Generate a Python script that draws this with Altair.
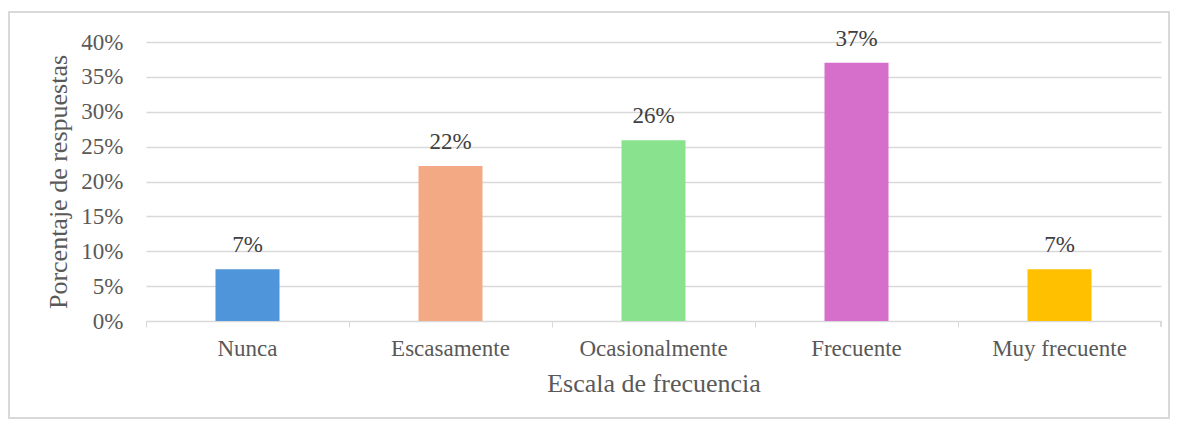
import altair as alt
import pandas as pd

categories = ["Nunca", "Escasamente", "Ocasionalmente", "Frecuente", "Muy frecuente"]
values = [2/27, 6/27, 7/27, 10/27, 2/27]
labels = ["7%", "22%", "26%", "37%", "7%"]
colors = ["#4F95DA", "#F3AA84", "#88E28E", "#D66FCB", "#FFC000"]
y_ticks = [0, 0.05, 0.1, 0.15, 0.2, 0.25, 0.3, 0.35, 0.4]

df = pd.DataFrame({"cat": categories, "val": values, "lab": labels})

W, H = 1015, 279
FONT = "Liberation Serif"

x = alt.X("cat:N", sort=categories, title="Escala de frecuencia",
          scale=alt.Scale(paddingInner=0, paddingOuter=0),
          axis=alt.Axis(labelAngle=0, labelFont=FONT, labelFontSize=23, labelColor="#595959",
                        titleFont=FONT, titleFontSize=26, titleColor="#595959", titleFontWeight="normal",
                        titlePadding=10, labelPadding=10, tickSize=6, bandPosition=0,
                        domainColor="#d9d9d9", tickColor="#d9d9d9", grid=False, labelOverlap=False))
y = alt.Y("val:Q", title="Porcentaje de respuestas",
          scale=alt.Scale(domain=[0, 0.4]),
          axis=alt.Axis(format=".0%", values=y_ticks, tickCount=9, labelOverlap=False,
                        labelFont=FONT, labelFontSize=23, labelColor="#595959",
                        titleFont=FONT, titleFontSize=26, titleColor="#595959", titleFontWeight="normal",
                        titlePadding=9, labelPadding=23, ticks=False, domain=False,
                        gridColor="#d9d9d9", gridWidth=1.3))

bars = alt.Chart(df).mark_bar(size=64).encode(
    x=x, y=y,
    color=alt.Color("cat:N", sort=categories, scale=alt.Scale(domain=categories, range=colors), legend=None),
)
text = alt.Chart(df).mark_text(font=FONT, fontSize=23, color="#404040", dy=-17, baseline="alphabetic").encode(
    x=x, y=y, text="lab:N"
)
endtick = alt.Chart(df).mark_rule(color="#d9d9d9").encode(
    x=alt.value(W), y=alt.value(H), y2=alt.value(H + 6)
)
border = alt.Chart(df).mark_rect(fill=None, stroke="#d9d9d9", strokeWidth=1.5).encode(
    x=alt.value(-137), x2=alt.value(1023), y=alt.value(-30), y2=alt.value(376)
)

chart = alt.layer(border, bars, text, endtick).properties(
    width=W, height=H,
    autosize=alt.AutoSizeParams(type="none"),
    padding={"left": 138, "top": 34, "right": 9, "bottom": 98},
).configure_view(stroke=None)

chart.save("out.html", embed_options={"renderer": "svg", "actions": False})
